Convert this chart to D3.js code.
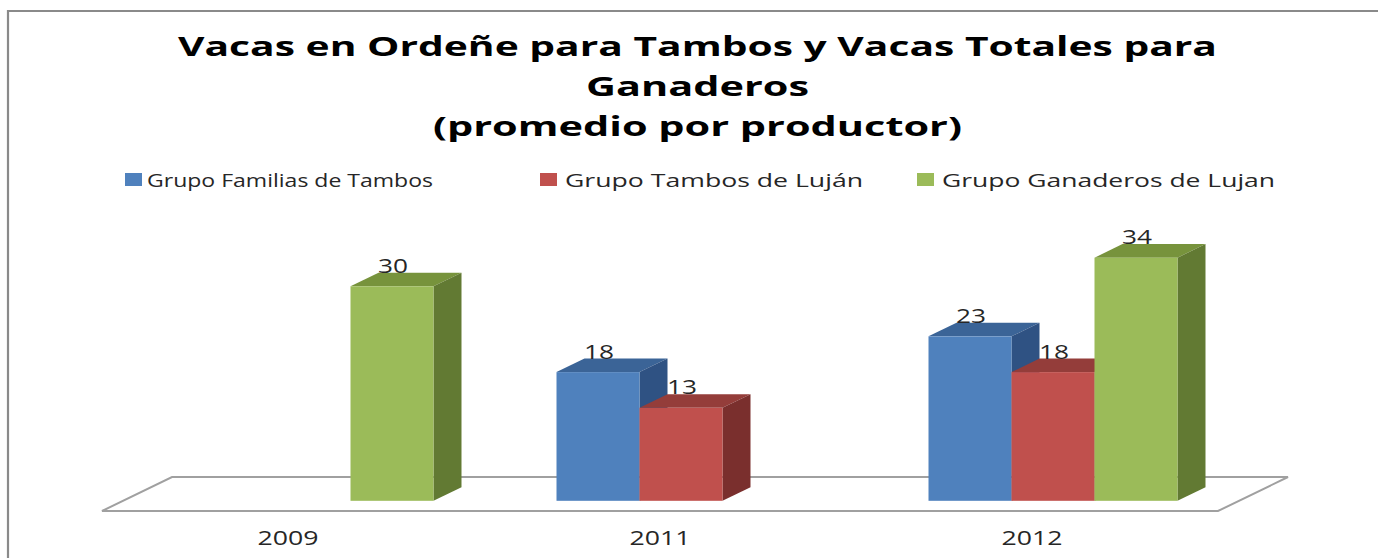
<!DOCTYPE html>
<html>
<head>
<meta charset="utf-8">
<script src="https://cdn.jsdelivr.net/npm/d3@7"></script>
<style>
  html, body { margin: 0; padding: 0; background: #fff; }
  svg { display: block; }
  text { font-family: "Open Sans", "DejaVu Sans", sans-serif; }
</style>
</head>
<body>
<svg id="chart" width="1378" height="558"></svg>
<script>
// ---- data ----
const years = ["2009", "2011", "2012"];
const seriesNames = ["Grupo Familias de Tambos", "Grupo Tambos de Luján", "Grupo Ganaderos de Lujan"];
const familiasTambos = [null, 18, 23];
const tambosLujan = [null, 13, 18];
const ganaderosLujan = [30, null, 34];
const titleLines = ["Vacas en Ordeñe para Tambos y Vacas Totales para", "Ganaderos", "(promedio por productor)"];

// ---- styles ----
const frontColors = ["#4F81BD", "#C0504D", "#9BBB59"];
const topColors   = ["#3B6497", "#943D3A", "#77933C"];
const sideColors  = ["#2F5283", "#7A2F2D", "#627A33"];

const svg = d3.select("#chart");
const W = 1378, H = 558;

// outer border (right/bottom edges lie outside the picture)
svg.append("path")
  .attr("d", `M8,${H + 5} L8,11 L${W + 5},11`)
  .attr("fill", "none").attr("stroke", "#8a8a8a").attr("stroke-width", 2.2);

// title
const titleWidths = [1039, 223, 529];
const titleBase = [56, 96, 136];
svg.selectAll("text.title").data(titleLines).join("text")
  .attr("class", "title")
  .attr("x", 697.5).attr("y", (d, i) => titleBase[i])
  .attr("text-anchor", "middle")
  .attr("font-size", 26).attr("font-weight", 700).attr("fill", "#000")
  .attr("textLength", (d, i) => titleWidths[i])
  .attr("lengthAdjust", "spacingAndGlyphs")
  .text(d => d);

// legend
const legSq = [125, 540, 917];
const legTx = [147, 565, 942];
const legTw = [286, 298, 333];
const leg = svg.selectAll("g.leg").data(seriesNames).join("g").attr("class", "leg");
leg.append("rect")
  .attr("x", (d, i) => legSq[i]).attr("y", 173)
  .attr("width", 17).attr("height", 13)
  .attr("fill", (d, i) => frontColors[i]);
leg.append("text")
  .attr("x", (d, i) => legTx[i]).attr("y", 186.5)
  .attr("font-size", 19).attr("fill", "#262626")
  .attr("textLength", (d, i) => legTw[i])
  .attr("lengthAdjust", "spacingAndGlyphs")
  .text(d => d);

// ---- scales ----
const floorFront = 511;          // y of front edge of floor
const depth = [70, -34];         // floor depth vector
const barFrontF = 0.3, barBackF = 0.7;  // bar front/back as fraction of floor depth

const x0 = d3.scaleBand().domain(years).range([102, 1218]).padding(0);
const x1 = d3.scaleBand().domain(seriesNames).range([0, x0.bandwidth()])
  .paddingInner(0).paddingOuter(0.741);
const y = d3.scaleLinear().domain([0, 40]).range([floorFront + depth[1] * barFrontF, floorFront + depth[1] * barFrontF - 286]);

// floor
const fx0 = x0.range()[0], fx1 = x0.range()[1];
svg.append("path")
  .attr("d", `M${fx0},${floorFront} L${fx1},${floorFront} L${fx1 + depth[0]},${floorFront + depth[1]} L${fx0 + depth[0]},${floorFront + depth[1]} Z`)
  .attr("fill", "#fff").attr("stroke", "#a0a0a0").attr("stroke-width", 2);

// bars
const seriesValues = [familiasTambos, tambosLujan, ganaderosLujan];
const bars = [];
years.forEach((yr, ci) => {
  seriesNames.forEach((s, si) => {
    const v = seriesValues[si][ci];
    if (v == null) return;
    bars.push({ yr, s, si, v });
  });
});

const ddx = depth[0] * (barBackF - barFrontF), ddy = depth[1] * (barBackF - barFrontF);
const shiftX = depth[0] * barFrontF;

const g = svg.append("g");
bars.forEach(b => {
  const xl = x0(b.yr) + x1(b.s) + shiftX;
  const xr = xl + x1.bandwidth();
  const yt = y(b.v), yb = y(0);
  const bg = g.append("g");
  // top
  bg.append("path")
    .attr("d", `M${xl},${yt} L${xl + ddx},${yt + ddy} L${xr + ddx},${yt + ddy} L${xr},${yt} Z`)
    .attr("fill", topColors[b.si]);
  // side
  bg.append("path")
    .attr("d", `M${xr},${yt} L${xr + ddx},${yt + ddy} L${xr + ddx},${yb + ddy} L${xr},${yb} Z`)
    .attr("fill", sideColors[b.si]);
  // front
  bg.append("rect")
    .attr("x", xl).attr("y", yt).attr("width", xr - xl).attr("height", yb - yt)
    .attr("fill", frontColors[b.si]);
});

// value labels
svg.selectAll("text.val").data(bars).join("text")
  .attr("class", "val")
  .attr("x", d => x0(d.yr) + x1(d.s) + shiftX + x1.bandwidth() / 2 + 1)
  .attr("y", d => y(d.v) + ddy)
  .attr("text-anchor", "middle")
  .attr("font-size", 20).attr("fill", "#262626")
  .attr("textLength", 30).attr("lengthAdjust", "spacingAndGlyphs")
  .text(d => d.v);

// category axis labels
svg.selectAll("text.cat").data(years).join("text")
  .attr("class", "cat")
  .attr("x", d => x0(d) + x0.bandwidth() / 2)
  .attr("y", 545)
  .attr("text-anchor", "middle")
  .attr("font-size", 20).attr("fill", "#262626")
  .attr("textLength", 61).attr("lengthAdjust", "spacingAndGlyphs")
  .text(d => d);
</script>
</body>
</html>
